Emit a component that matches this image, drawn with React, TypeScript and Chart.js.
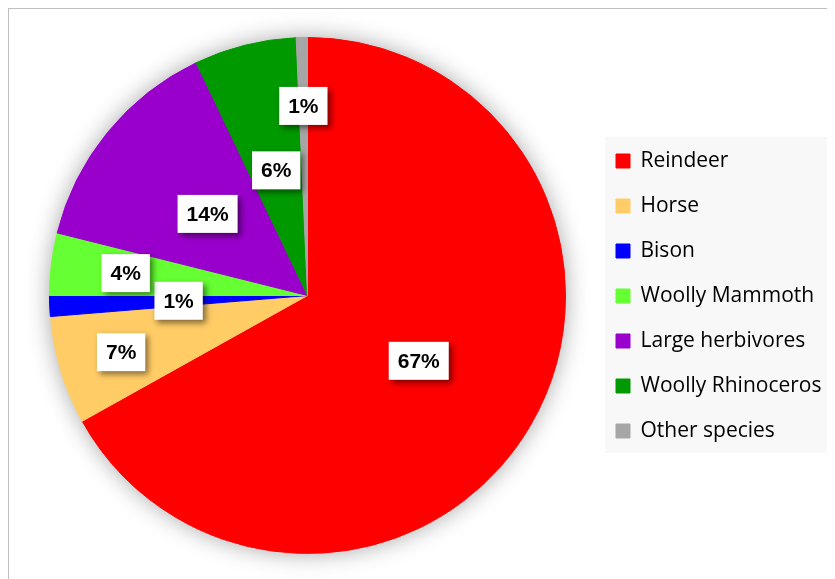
import React, { useEffect, useRef } from 'react';
import { Chart, registerables } from 'chart.js';

Chart.register(...registerables);

const categories = [
  'Reindeer',
  'Horse',
  'Bison',
  'Woolly Mammoth',
  'Large herbivores',
  'Woolly Rhinoceros',
  'Other species',
];
const shares = [66.9, 6.8, 1.3, 3.9, 14.0, 6.4, 0.7];
const sliceColors = ['#FF0000', '#FFCC66', '#0000FF', '#66FF33', '#9900CC', '#009900', '#A6A6A6'];

export default function App() {
  const canvasRef = useRef<HTMLCanvasElement | null>(null);

  useEffect(() => {
    document.documentElement.style.overflow = 'hidden';
    document.body.style.overflow = 'hidden';
    const canvas = canvasRef.current;
    if (!canvas) return;

    const labelRadius = [0.5, 0.755, 0.5, 0.71, 0.5, 0.5, 0.735];

    const pieShadow = {
      id: 'pieShadow',
      beforeDatasetsDraw(chart: any) {
        const el = chart.getDatasetMeta(0).data[0];
        if (!el) return;
        const { x, y, outerRadius } = el.getProps(['x', 'y', 'outerRadius'], true);
        const ctx = chart.ctx;
        ctx.save();
        ctx.shadowColor = 'rgba(0,0,0,0.38)';
        ctx.shadowBlur = 24;
        ctx.fillStyle = '#ffffff';
        ctx.beginPath();
        ctx.arc(x, y, outerRadius - 1, 0, Math.PI * 2);
        ctx.fill();
        ctx.restore();
      },
    };

    const legendPanel = {
      id: 'legendPanel',
      afterLayout(chart: any) {
        const lg = chart.legend;
        if (!lg) return;
        const w = lg.width;
        const h = lg.height;
        lg.left = 583;
        lg.right = lg.left + w;
        lg.top = 117.5;
        lg.bottom = lg.top + h;
      },
      beforeDraw(chart: any) {
        const ctx = chart.ctx;
        ctx.save();
        ctx.fillStyle = '#f8f8f8';
        ctx.fillRect(596, 128, 226, 316);
        ctx.restore();
      },
    };

    const dataLabels = {
      id: 'dataLabels',
      afterDatasetsDraw(chart: any) {
        const ctx = chart.ctx;
        const meta = chart.getDatasetMeta(0);
        const values = chart.data.datasets[0].data as number[];
        const total = values.reduce((a, b) => a + b, 0);
        meta.data.forEach((el: any, i: number) => {
          const { x, y, startAngle, endAngle, outerRadius } = el.getProps(
            ['x', 'y', 'startAngle', 'endAngle', 'outerRadius'],
            true
          );
          const mid = (startAngle + endAngle) / 2;
          const r = outerRadius * labelRadius[i];
          const cx = x + Math.cos(mid) * r;
          const cy = y + Math.sin(mid) * r;
          const text = Math.round((values[i] / total) * 100) + '%';
          ctx.save();
          ctx.font = 'bold 21px "Liberation Sans", Arial, sans-serif';
          const w = ctx.measureText(text).width + 18;
          const h = 38;
          ctx.shadowColor = 'rgba(0,0,0,0.5)';
          ctx.shadowBlur = 6;
          ctx.shadowOffsetX = 3;
          ctx.shadowOffsetY = 3;
          ctx.fillStyle = '#ffffff';
          ctx.fillRect(cx - w / 2, cy - h / 2, w, h);
          ctx.shadowColor = 'transparent';
          ctx.fillStyle = '#000000';
          ctx.textAlign = 'center';
          ctx.textBaseline = 'middle';
          ctx.fillText(text, cx, cy + 1);
          ctx.restore();
        });
      },
    };

    const chart = new Chart(canvas, {
      type: 'pie',
      data: {
        labels: categories,
        datasets: [
          {
            data: shares,
            backgroundColor: sliceColors,
            borderColor: sliceColors,
            borderWidth: 1,
          },
        ],
      },
      options: {
        responsive: true,
        maintainAspectRatio: false,
        animation: false,
        layout: { padding: { left: 40, right: 269, top: 28, bottom: 25 } },
        plugins: {
          legend: {
            position: 'chartArea' as any,
            align: 'start',
            labels: {
              boxWidth: 14,
              boxHeight: 14,
              padding: 24,
              color: '#000000',
              font: { family: '"Open Sans", sans-serif', size: 21 },
            },
          },
          tooltip: { enabled: false },
        },
      },
      plugins: [pieShadow, legendPanel, dataLabels],
    });

    return () => chart.destroy();
  }, []);

  return (
    <div
      style={{
        position: 'relative',
        width: 826,
        height: 570,
        borderTop: '1px solid #bfbfbf',
        borderLeft: '1px solid #bfbfbf',
        background: '#ffffff',
      }}
    >
      <canvas ref={canvasRef} style={{ display: 'block' }} />
    </div>
  );
}
